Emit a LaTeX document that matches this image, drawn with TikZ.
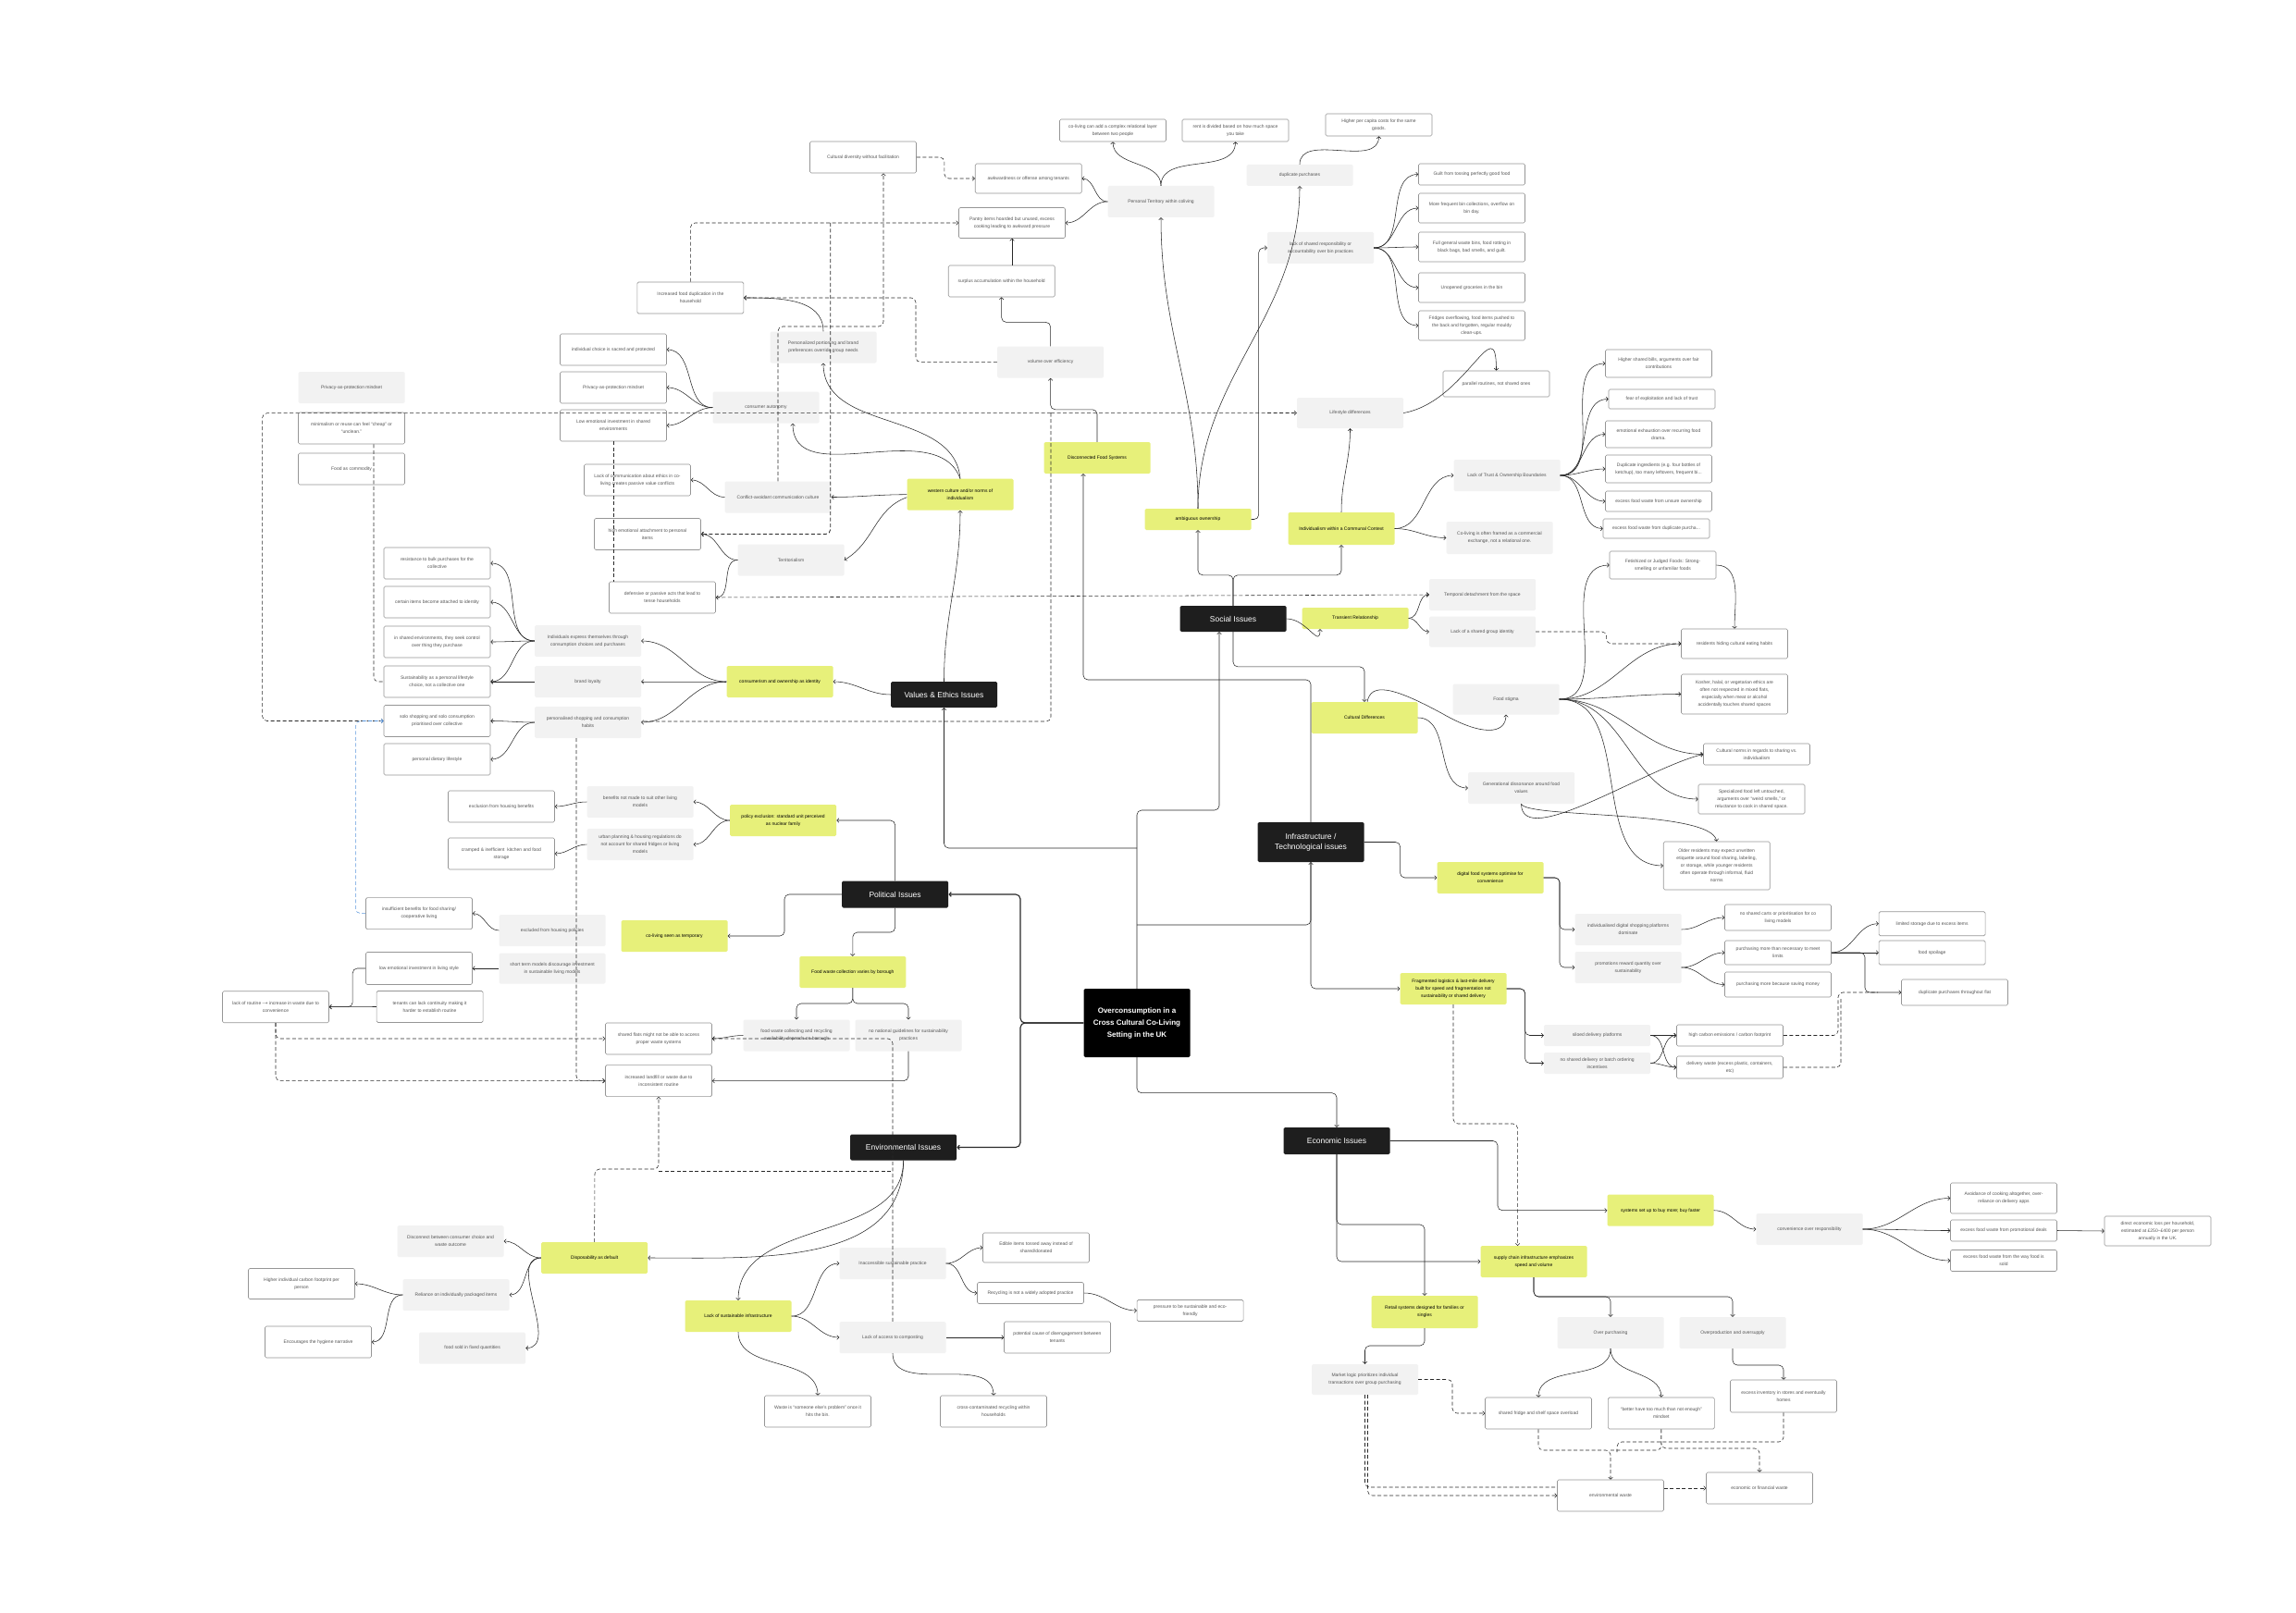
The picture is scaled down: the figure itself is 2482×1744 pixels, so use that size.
\documentclass[tikz,border=0pt]{standalone}
\usepackage{fontspec}
\setmainfont{Liberation Sans}
\newfontfamily\djv{DejaVu Sans}
\usetikzlibrary{arrows.meta,calc}
\definecolor{yfill}{RGB}{231,240,122}
\definecolor{gfill}{RGB}{242,242,242}
\definecolor{bfill}{RGB}{30,30,30}
\definecolor{bord}{RGB}{150,150,150}
\definecolor{txt}{RGB}{85,85,85}
\definecolor{lc}{RGB}{40,40,40}
\definecolor{blu}{RGB}{90,150,220}
\newcommand\fsm{\fontsize{5}{8}\selectfont}
\newcommand\ftl{\fontsize{8.5}{11}\selectfont}
\newcommand\fbg{\fontsize{8}{13}\selectfont\bfseries}
\tikzset{
  nb/.style={rounded corners=1.5pt, minimum width=115pt, minimum height=34pt, inner sep=1pt, align=center, font=\fsm, text=txt},
  wb/.style={nb, draw=bord, fill=white, line width=0.6pt},
  gb/.style={nb, fill=gfill},
  yb/.style={nb, fill=yfill, text=black},
  bb/.style={nb, fill=bfill, text=white, font=\ftl, minimum height=28pt},
  ln/.style={draw=lc, line width=0.55pt},
  con/.style={ln, -{Straight Barb[length=2.2pt,width=4.6pt]}},
  dcon/.style={con, dash pattern=on 4pt off 2.5pt},
  dln/.style={ln, dash pattern=on 4pt off 2.5pt},
  rc/.style={rounded corners=5pt},
  thk/.style={line width=1.1pt}
}
\begin{document}
\begin{tikzpicture}[x=1pt,y=1pt]
\useasboundingbox (0,0) rectangle (2482,-1744);
\fill[white] (0,0) rectangle (2482,-1744);

% ---------------- Values & Ethics ----------------
\node[gb] (privL) at (380,-419) {Privacy-as-protection mindset};
\node[wb] (minim) at (380,-463) {minimalism or reuse can feel “cheap” or\\“unclean.”};
\node[wb] (foodcom) at (380,-507) {Food as commodity};
\node[wb] (indch) at (663,-378) {individual choice is sacred and protected};
\node[wb] (privR) at (663,-419) {Privacy-as-protection mindset};
\node[wb] (lowemo) at (663,-460) {Low emotional investment in shared\\environments};
\node[wb] (lackcomm) at (689,-519) {Lack of communication about ethics in co-\\living creates passive value conflicts};
\node[wb] (highemo) at (700,-577.5) {high emotional attachment to personal\\items};
\node[wb] (defens) at (716,-646) {defensive or passive acts that lead to\\tense households};
\node[wb] (resist) at (472.5,-609) {resistance to bulk purchases for the\\collective};
\node[wb] (certain) at (472.5,-651) {certain items become attached to identity};
\node[wb] (inshared) at (472.5,-694) {in shared environments, they seek control\\over thing they purchase};
\node[wb] (sustain) at (472.5,-737) {Sustainability as a personal lifestyle\\choice, not a collective one};
\node[wb] (solo) at (472.5,-779.5) {solo shopping and solo consumption\\prioritised over collective};
\node[wb] (diet) at (472.5,-821) {personal dietary lifestyle};
\node[gb] (indexp) at (635.5,-693) {Individuals express themselves through\\consumption choices and purchases};
\node[gb] (brand) at (635.5,-737) {brand loyalty};
\node[gb] (perssh) at (635.5,-781) {personalised shopping and consumption\\habits};
\node[yb] (consum) at (843,-737) {consumerism and ownership as identity};
\node[gb] (consaut) at (828,-440.7) {consumer autonomy};
\node[gb] (conflict) at (841,-537.5) {Conflict-avoidant communication culture};
\node[gb] (territ) at (855,-605.5) {Territorialism};
\node[yb] (western) at (1038,-534.7) {western culture and/or norms of\\individualism};
\node[gb] (persport) at (890,-375.5) {Personalized portioning and brand\\preferences override group needs};
\node[wb] (incdup) at (746.4,-322) {Increased food duplication in the\\household};
\node[wb] (cultdiv) at (933,-170) {Cultural diversity without facilitation};
\node[wb,minimum height=32pt] (awk) at (1111.7,-193) {awkwardness or offense among tenants};
\node[wb,minimum height=33pt] (pantry) at (1094,-241) {Pantry items hoarded but unused, excess\\cooking leading to awkward pressure};
\node[wb] (surplus) at (1082.7,-304) {surplus accumulation within the household};
\node[gb] (volume) at (1135.6,-391.6) {volume over efficiency};
\node[yb] (discon) at (1186,-495) {Disconnected Food Systems};
\node[bb] (values) at (1020.5,-751) {Values \& Ethics Issues};

% ---------------- Social ----------------
\node[wb,minimum height=24pt] (coliv2) at (1203,-141) {co-living can add a complex relational layer\\between two people};
\node[wb,minimum height=24pt] (rent) at (1335.5,-141) {rent is divided based on how much space\\you take};
\node[wb,minimum height=24pt] (higherpc) at (1490.5,-135) {Higher per capita costs for the same\\goods.};
\node[gb,minimum height=23pt] (dupp) at (1405,-189.5) {duplicate purchases};
\node[gb] (persterr) at (1255,-218) {Personal Territory within coliving};
\node[wb,minimum height=23pt] (guilt) at (1591,-188.5) {Guilt from tossing perfectly good food};
\node[wb,minimum height=32pt] (morefreq) at (1591,-225) {More frequent bin collections, overflow on\\bin day.};
\node[wb,minimum height=32pt] (fullbins) at (1591,-267) {Full general waste bins, food rotting in\\black bags, bad smells, and guilt.};
\node[wb,minimum height=32pt] (unopened) at (1591,-311) {Unopened groceries in the bin};
\node[wb,minimum height=32pt] (fridges) at (1591,-352) {Fridges overflowing, food items pushed to\\the back and forgotten, regular mouldy\\clean-ups.};
\node[gb] (lackresp) at (1427.5,-268) {lack of shared responsibility or\\accountability over bin practices};
\node[wb,minimum height=28pt] (parallel) at (1617.5,-415) {parallel routines, not shared ones};
\node[gb,minimum height=33pt] (lifestyle) at (1459.5,-446.5) {Lifestyle differences};
\node[yb,minimum height=23pt] (ambig) at (1295,-561.5) {ambiguous ownership};
\node[yb,minimum height=35pt] (indiv) at (1450,-571.5) {Individualism within a Communal Context};
\node[gb] (lacktrust) at (1629,-514) {Lack of Trust \& Ownership Boundaries};
\node[gb,minimum height=35pt] (cofram) at (1621,-581.5) {Co-living is often framed as a commercial\\exchange, not a relational one.};
\node[wb,minimum height=30pt] (highbills) at (1793,-393) {Higher shared bills, arguments over fair\\contributions};
\node[wb,minimum height=21pt] (fear) at (1796.5,-431.5) {fear of exploitation and lack of trust};
\node[wb,minimum height=29pt] (emoexh) at (1793,-469.5) {emotional exhaustion over recurring food\\drama.};
\node[wb,minimum height=30pt] (duping) at (1793,-507) {Duplicate ingredients (e.g. four bottles of\\ketchup), too many leftovers, frequent bi...};
\node[wb,minimum height=22pt] (excunsure) at (1793,-542) {excess food waste from unsure ownership};
\node[wb,minimum height=21pt] (excdup) at (1790.5,-571.5) {excess food waste from duplicate purcha...};
\node[wb,minimum height=30pt] (fetish) at (1797.5,-611) {Fetishized or Judged Foods: Strong-\\smelling or unfamiliar foods};
\node[gb] (temporal) at (1602.5,-643) {Temporal detachment from the space};
\node[gb,minimum height=33pt] (lackgroup) at (1602.5,-683) {Lack of a shared group identity};
\node[wb,minimum height=32pt] (hiding) at (1875,-696) {residents hiding cultural eating habits};
\node[wb,minimum height=43pt] (kosher) at (1875,-750.5) {Kosher, halal, or vegetarian ethics are\\often not respected in mixed flats,\\especially when meat or alcohol\\accidentally touches shared spaces};
\node[gb,minimum height=33pt] (stigma) at (1628,-756) {Food stigma};
\node[wb,minimum height=23pt] (normsh) at (1899,-815.5) {Cultural norms in regards to sharing vs.\\individualism};
\node[gb] (generat) at (1644.5,-852) {Generational dissonance around food\\values};
\node[wb,minimum height=32pt] (special) at (1893.5,-864) {Specialized food left untouched,\\arguments over “weird smells,” or\\reluctance to cook in shared space.};
\node[wb,minimum height=52pt] (older) at (1855.7,-936) {Older residents may expect unwritten\\etiquette around food sharing, labeling,\\or storage, while younger residents\\often operate through informal, fluid\\norms};
\node[bb] (social) at (1333,-669) {Social Issues};
\node[yb,minimum height=23pt] (transient) at (1465,-668.5) {Transient Relationship};
\node[yb] (cultdiff) at (1475,-776) {Cultural Differences};

% ---------------- Infrastructure ----------------
\node[bb,minimum height=43pt] (infra) at (1417,-910.5) {Infrastructure /\\Technological issues};
\node[yb] (digital) at (1611,-949) {digital food systems optimise for\\convenience};
\node[gb] (indivdig) at (1760,-1005) {individualised digital shopping platforms\\dominate};
\node[gb] (promo) at (1760,-1046) {promotions reward quantity over\\sustainability};
\node[wb,minimum height=28pt] (nocarts) at (1922,-992) {no shared carts or prioritisation for co\\living models};
\node[wb,minimum height=26pt] (purchnec) at (1922,-1030) {purchasing more than necessary to meet\\limits};
\node[wb,minimum height=27pt] (purchsave) at (1922,-1064.5) {purchasing more because saving money};
\node[wb,minimum height=26pt] (limstor) at (2088.6,-998.7) {limited storage due to excess items};
\node[wb,minimum height=26pt] (spoil) at (2088.6,-1030) {food spoilage};
\node[wb,minimum height=28pt] (dupflat) at (2113,-1073) {duplicate purchases throughout flat};
\node[yb] (frag) at (1571,-1069) {Fragmented logistics \& last-mile delivery\\built for speed and fragmentation not\\sustainability or shared delivery};
\node[gb,minimum height=23pt] (siloed) at (1726.6,-1119.5) {siloed delivery platforms};
\node[gb,minimum height=23pt] (noshdel) at (1726.6,-1149.5) {no shared delivery or batch ordering\\incentives};
\node[wb,minimum height=23pt] (carbon) at (1870,-1119.5) {high carbon emissions / carbon footprint};
\node[wb,minimum height=24pt] (delwaste) at (1870,-1154) {delivery waste (excess plastic, containers,\\etc)};

% ---------------- Economic ----------------
\node[bb,minimum height=29pt] (econ) at (1445,-1233.5) {Economic Issues};
\node[yb] (buymore) at (1795,-1308.7) {systems set up to buy more; buy faster};
\node[gb] (conven) at (1956,-1329) {convenience over responsibility};
\node[wb,minimum height=33pt] (avoid) at (2166,-1295.5) {Avoidance of cooking altogether, over-\\reliance on delivery apps};
\node[wb,minimum height=23pt] (excpromo) at (2166,-1330.5) {excess food waste from promotional deals};
\node[wb,minimum height=23pt] (excsold) at (2166,-1363) {excess food waste from the way food is\\sold};
\node[wb,minimum height=32pt] (direct) at (2332.5,-1331) {direct economic loss per household,\\estimated at £250–£400 per person\\annually in the UK.};
\node[yb] (supply) at (1658,-1364) {supply chain infrastructure emphasizes\\speed and volume};
\node[yb,minimum height=35pt] (retail) at (1540,-1418.5) {Retail systems designed for families or\\singles};
\node[gb] (overp) at (1741,-1441) {Over purchasing};
\node[gb] (overprod) at (1873,-1441) {Overproduction and oversupply};
\node[gb,minimum height=33pt] (market) at (1475.5,-1491.5) {Market logic prioritizes individual\\transactions over group purchasing};
\node[wb] (fridge) at (1663,-1528) {shared fridge and shelf space overload};
\node[wb] (better) at (1795.8,-1528) {“better have too much than not enough”\\mindset};
\node[wb,minimum height=35pt] (excinv) at (1928,-1509.5) {excess inventory in stores and eventually\\homes};
\node[wb] (envw) at (1741,-1617) {environmental waste};
\node[wb] (econw) at (1902,-1609) {economic or financial waste};

% ---------------- Political ----------------
\node[wb] (exclben) at (542,-872) {exclusion from housing benefits};
\node[wb] (cramped) at (542,-923) {cramped \& inefficient\ \ kitchen and food\\storage};
\node[gb] (bennot) at (692,-867) {benefits not made to suit other living\\models};
\node[gb] (urban) at (692,-913) {urban planning \& housing regulations do\\not account for shared fridges or living\\models};
\node[yb] (policy) at (846.6,-887) {policy exclusion: standard unit perceived\\as nuclear family};
\node[bb,minimum height=29pt] (polit) at (967.6,-967) {Political Issues};
\node[wb] (insuff) at (453,-987.6) {insufficient benefits for food sharing/\\cooperative living};
\node[gb] (exclpol) at (597,-1006) {excluded from housing policies};
\node[yb] (cotemp) at (729,-1012) {co-living seen as temporary};
\node[gb,minimum height=33pt] (shortterm) at (597,-1047) {short term models discourage investment\\in sustainable living models};
\node[wb,minimum height=35pt] (lowliv) at (453,-1047) {low emotional investment in living style};
\node[wb] (tenants) at (464.6,-1088.5) {tenants can lack continuity making it\\harder to establish routine};
\node[yb] (fwyellow) at (921.8,-1051) {Food waste collection varies by borough};
\node[gb] (fwcoll) at (861,-1119.5) {food waste collecting and recycling\\availability depends on borough};
\node[gb] (nonat) at (982,-1119.5) {no national guidelines for sustainability\\practices};
\node[wb] (shflats) at (712,-1123) {shared flats might not be able to access\\proper waste systems};
\node[wb] (landfill) at (712,-1168.6) {increased landfill or waste due to\\inconsistent routine};
\node[wb] (lackrout) at (298,-1088.7) {lack of routine -{\djv →} increase in waste due to\\convenience};

% ---------------- Environmental ----------------
\node[bb] (envi) at (976.6,-1240.5) {Environmental Issues};
\node[bb,minimum height=74pt,fill=black,font=\fbg] (overc) at (1229,-1106) {Overconsumption in a\\Cross Cultural Co-Living\\Setting in the UK};
\node[gb] (disconn) at (487,-1342) {Disconnect between consumer choice and\\waste outcome};
\node[yb] (dispo) at (642.6,-1360) {Disposability as default};
\node[wb,minimum height=33pt] (highind) at (326,-1388) {Higher individual carbon footprint per\\person};
\node[gb] (relian) at (493,-1400) {Reliance on individually packaged items};
\node[wb] (hygiene) at (344,-1451) {Encourages the hygiene narrative};
\node[gb] (fixed) at (510.6,-1457.6) {food sold in fixed quantities};
\node[yb] (lacksust) at (798,-1423) {Lack of sustainable infrastructure};
\node[gb] (inacc) at (965,-1366) {Inaccessible sustainable practice};
\node[gb] (compost) at (965,-1446) {Lack of access to composting};
\node[wb,minimum height=32pt] (edible) at (1120,-1349) {Edible items tossed away instead of\\shared/donated};
\node[wb,minimum height=23pt] (recyc) at (1114,-1398) {Recycling is not a widely adopted practice};
\node[wb,minimum height=23pt] (pressure) at (1286.6,-1417) {pressure to be sustainable and eco-\\friendly};
\node[wb] (potcause) at (1143,-1446) {potential cause of disengagement between\\tenants};
\node[wb] (waste) at (884,-1526) {Waste is “someone else's problem” once it\\hits the bin.};
\node[wb] (crosscon) at (1074,-1526) {cross-contaminated recycling within\\households};

% ================= CONNECTORS =================
% Values
\draw[con] (consaut.west) to[out=180,in=0] (indch.east);
\draw[con] (consaut.west) to[out=180,in=0] (privR.east);
\draw[con] (consaut.west) to[out=180,in=0] (lowemo.east);
\draw[con] (conflict.west) to[out=180,in=0] (lackcomm.east);
\draw[con] (territ.west) to[out=180,in=0] (highemo.east);
\draw[con] (territ.west) to[out=180,in=0] (defens.east);
\draw[con] (western.west) to[out=180,in=0] (conflict.east);
\draw[con] ([yshift=-3pt]western.west) to[out=200,in=30] (territ.east);
\draw[con] (western.north) to[out=95,in=-90] (persport.south);
\draw[con] (western.north) to[out=110,in=-90] ([xshift=29pt]consaut.south);
\draw[con] (values.north) to[out=90,in=-90] (western.south);
\draw[con] (values.west) to[out=180,in=0] (consum.east);
\draw[con] (consum.west) to[out=180,in=0] (indexp.east);
\draw[con] (consum.west) to[out=180,in=0] (brand.east);
\draw[con] (consum.west) to[out=180,in=0] (perssh.east);
\foreach \t in {resist,certain,inshared,sustain} {\draw[con] (indexp.west) to[out=180,in=0] (\t.east);}
\draw[con] (brand.west) -- (sustain.east);
\draw[con] (perssh.west) to[out=180,in=0] (solo.east);
\draw[con] (perssh.west) to[out=180,in=0] (diet.east);
\draw[dln,rc] ([xshift=24pt]minim.south) |- (sustain.west);
\draw[dln] (lowemo.south) -- (lowemo.south |- defens.north);
\draw[dcon,rc] (1136,-446.7) -- (283.6,-446.7) -- (283.6,-779.5) -- (solo.west);
\draw[dcon] (1136,-446.7) -- (lifestyle.west);
\draw[dln,rc] (1136,-446.7) -- (1136,-780) -- (693,-780);
\draw[dcon,rc] (conflict.north) -- (841,-353) -- (955,-353) -- (955,-187.5);
\draw[dcon,rc] (volume.west) -- (990,-391.6) -- (990,-322) -- (incdup.east);
\draw[dcon,rc] (incdup.north) |- (pantry.west);
\draw[dcon,rc,line width=0.8pt] (897.7,-241) -- (897.7,-577.5) -- (highemo.east);
\draw[dcon] (defens.east) -- (temporal.west);
\draw[con] (persport.north) to[out=90,in=0] (incdup.east);
\draw[con,rc] (volume.north) -- ++(0,26) -| (surplus.south);
\draw[con] (surplus.north -| pantry.south) -- (pantry.south);
\draw[con,rc] (discon.north) -- ++(0,35) -| (volume.south);
\draw[dcon,rc] (cultdiv.east) -- ++(30,0) |- (awk.west);

% Social
\draw[con] (persterr.north) to[out=90,in=-90] (coliv2.south);
\draw[con] (persterr.north) to[out=90,in=-90] (rent.south);
\draw[con] (persterr.west) to[out=180,in=0] (awk.east);
\draw[con] (persterr.west) to[out=180,in=0] (pantry.east);
\draw[con] (ambig.north) to[out=90,in=-90] (persterr.south);
\draw[con] (ambig.north) to[out=90,in=-90] (dupp.south);
\draw[con,rc] (ambig.east) -- (1360.7,-561.5) |- (lackresp.west);
\draw[con] (dupp.north) to[out=90,in=-90] (higherpc.south);
\foreach \t in {guilt,morefreq,fullbins,unopened,fridges} {\draw[con] (lackresp.east) to[out=0,in=180] (\t.west);}
\draw[con] (indiv.north) to[out=90,in=-90] (lifestyle.south);
\draw[con] (indiv.east) to[out=0,in=180] (lacktrust.west);
\draw[con] (indiv.east) to[out=0,in=180] (cofram.west);
\draw[con] (lifestyle.east) to[out=10,in=90,looseness=1.6] (parallel.north);
\foreach \t in {highbills,fear,emoexh,duping,excunsure,excdup} {\draw[con] (lacktrust.east) to[out=0,in=180] (\t.west);}
\draw[con,rc] (social.north) -- ++(0,33) -| (ambig.south);
\draw[con,rc] (social.north) -- ++(0,33) -| (indiv.south);
\draw[con,rc] (social.south) -- ++(0,-37.7) -| (cultdiff.north);
\draw[con] (social.east) to[out=0,in=-90,looseness=1.5] ([xshift=-38pt]transient.south);
\draw[con] (transient.east) to[out=0,in=180] (temporal.west);
\draw[con] (transient.east) to[out=0,in=180] (lackgroup.west);
\draw[con] (cultdiff.east) to[out=0,in=180] (generat.west);
\draw[con] ([xshift=3pt]cultdiff.north) .. controls (1482,-738) and (1505,-742) .. (1560,-772) .. controls (1600,-795) and (1628,-795) .. (stigma.south);
\foreach \t in {fetish,hiding,kosher,normsh,special,older} {\draw[con] (stigma.east) to[out=0,in=180] (\t.west);}
\draw[con] (fetish.east) to[out=0,in=90] (hiding.north);
\draw[dcon,rc] (lackgroup.east) -- (1736.7,-683) |- (hiding.west);
\draw[con] (generat.south) .. controls (1645,-920) and (1780,-830) .. (normsh.west);
\draw[con] (generat.south) .. controls (1650,-885) and (1850,-875) .. (older.north);

% Infrastructure
\draw[con,rc] (overc.north) -- (1229,-876) -| ([xshift=-15pt]social.south);
\draw[con,rc] (1229,-917) -| (values.south);
\draw[con,rc] (1229,-1000) -| (infra.south);
\draw[con,rc] (infra.south) |- (frag.west);
\draw[con,rc] (infra.north) -- (1417,-735) -| ([xshift=-15pt]discon.south);
\draw[con,rc] (infra.east) -- (1513.6,-910.5) |- (digital.west);
\draw[con,rc] (digital.east) -- (1686,-949) |- (indivdig.west);
\draw[con,rc] (digital.east) -- (1686,-949) |- (promo.west);
\draw[con] (indivdig.east) to[out=0,in=180] (nocarts.west);
\draw[con] (promo.east) to[out=0,in=180] (purchnec.west);
\draw[con] (promo.east) to[out=0,in=180] (purchsave.west);
\draw[con] (purchnec.east) to[out=0,in=180] (limstor.west);
\draw[con] (purchnec.east) -- (spoil.west);
\draw[con,rc] (purchnec.east) -- (2016,-1030) |- (dupflat.west);
\draw[dln,rc] (carbon.east) -- (1987,-1119.5) -- (1987,-1073) -- (2030,-1073);
\draw[dln,rc] (delwaste.east) -- (1990,-1154) -- (1990,-1080);
\draw[con,rc] (frag.east) -- (1648.6,-1069) |- (siloed.west);
\draw[con,rc] (frag.east) -- (1648.6,-1069) |- (noshdel.west);
\foreach \s in {siloed,noshdel} {\foreach \t in {carbon,delwaste} {\draw[con] (\s.east) to[out=0,in=180] (\t.west);}}
\draw[dcon,rc] (frag.south) -- (1571,-1215) -- (1640.6,-1215) -- (1640.6,-1347);

% Economic
\draw[con,rc] (overc.south) -- (1229,-1181.7) -| (econ.north);
\draw[con,rc] (econ.east) -- (1619,-1233.5) |- (buymore.west);
\draw[con,rc] (econ.south) -- (1445,-1324) -| (retail.north);
\draw[con,rc] (econ.south) |- (supply.west);
\draw[con] (buymore.east) to[out=0,in=180] (conven.west);
\foreach \t in {avoid,excpromo,excsold} {\draw[con] (conven.east) to[out=0,in=180] (\t.west);}
\draw[con] (excpromo.east) -- (direct.west);
\draw[con,rc] (supply.south) -- (1658,-1402) -| (overp.north);
\draw[con,rc] (supply.south) -- (1658,-1402) -| (overprod.north);
\draw[con,rc] (retail.south) -- (1540,-1455) -| (market.north);
\draw[con] (overp.south) to[out=-90,in=90] (fridge.north);
\draw[con] (overp.south) to[out=-90,in=90] (better.north);
\draw[con,rc] (overprod.south) -- (1873,-1476) -| (excinv.north);
\draw[dcon,rc] (market.east) -- (1570,-1491.5) |- (fridge.west);
\draw[dln,rc] (market.south) |- ([yshift=9pt]envw.west);
\draw[dcon,rc] ([xshift=3pt]market.south) |- (envw.west);
\draw[dcon] (envw.east |- econw.west) -- (econw.west);
\draw[dcon,rc] (fridge.south) -- (1663,-1568) -| (envw.north);
\draw[dln,rc] (better.south) -- (1796,-1568) -- (1741,-1568);
\draw[dln,rc] (excinv.south) -- (1928,-1559) -- (1748,-1559) -- (1748,-1570);
\draw[dcon,rc] (better.south) -- (1796,-1566) -| (econw.north);

% Political
\draw[con,thk,rc] (overc.west) -- (1103,-1106) |- (polit.east);
\draw[con,thk,rc] (overc.west) -- (1103,-1106) |- (envi.east);
\draw[con,rc] (polit.north) |- (policy.east);
\draw[con] (policy.west) to[out=180,in=0] (bennot.east);
\draw[con] (policy.west) to[out=180,in=0] (urban.east);
\draw[con] (bennot.west) to[out=180,in=0] (exclben.east);
\draw[con] (urban.west) to[out=180,in=0] (cramped.east);
\draw[con,rc] (polit.west) -- (848,-967) |- (cotemp.east);
\draw[con,rc] (polit.south) -- (967.6,-1008) -| (fwyellow.north);
\draw[con] (exclpol.west) to[out=180,in=0] (insuff.east);
\draw[con] (shortterm.west) -- (lowliv.east);
\draw[con,rc] (lowliv.west) -- ++(-14,0) |- (lackrout.east);
\draw[con] (tenants.west) -- (lackrout.east);
\draw[dcon,blu,rc] (insuff.west) -- (384.6,-987.6) -- (384.6,-779.5) -- (solo.west);
\draw[con,rc] (fwyellow.south) -- (921.8,-1085) -| (fwcoll.north);
\draw[con,rc] (fwyellow.south) -- (921.8,-1085) -| (nonat.north);
\draw[con] (fwcoll.west) to[out=180,in=0] (shflats.east);
\draw[con,rc] (nonat.south) |- (landfill.east);
\draw[dcon,rc] (lackrout.south) |- (shflats.west);
\draw[dcon,rc] (lackrout.south) |- (landfill.west);
\draw[dcon,rc] ([xshift=-12.5pt]perssh.south) |- (landfill.west);
\draw[dcon,rc] (compost.north) |- (shflats.east);
\draw[dcon,rc] (dispo.north) -- (643,-1264) -| (landfill.south);
\draw[dln,rc] (963,-1266.7) -- (712,-1266.7);

% Environmental
\draw[con] (envi.south) to[out=-90,in=0] (dispo.east);
\draw[con] (envi.south) to[out=-90,in=90] (lacksust.north);
\foreach \t in {disconn,relian,fixed} {\draw[con] (dispo.west) to[out=180,in=0] (\t.east);}
\draw[con] (relian.west) to[out=180,in=0] (highind.east);
\draw[con] (relian.west) to[out=180,in=0] (hygiene.east);
\draw[con] (lacksust.east) to[out=0,in=180] (inacc.west);
\draw[con] (lacksust.east) to[out=0,in=180] (compost.west);
\draw[con] (lacksust.south) to[out=-90,in=90] (waste.north);
\draw[con] (inacc.east) to[out=0,in=180] (edible.west);
\draw[con] (inacc.east) to[out=0,in=180] (recyc.west);
\draw[con] (recyc.east) to[out=0,in=180] (pressure.west);
\draw[con] (compost.east) -- (potcause.west);
\draw[con] (compost.south) to[out=-90,in=90] (crosscon.north);
\end{tikzpicture}
\end{document}
